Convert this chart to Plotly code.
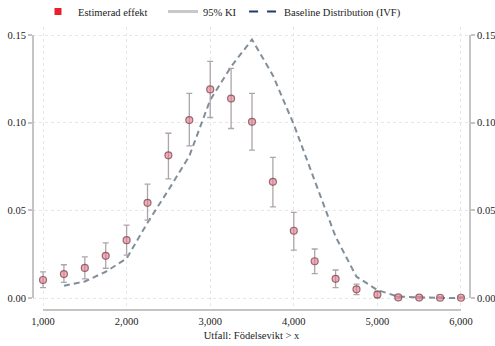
import plotly.graph_objects as go

# ---- data ----
x_est = [1000, 1250, 1500, 1750, 2000, 2250, 2500, 2750, 3000, 3250, 3500,
         3750, 4000, 4250, 4500, 4750, 5000, 5250, 5500, 5750, 6000]
est = [0.0103, 0.0137, 0.0172, 0.0241, 0.0330, 0.0543, 0.0814, 0.1015, 0.1190, 0.1138, 0.1005,
       0.0663, 0.0384, 0.0210, 0.0110, 0.0050, 0.0020, 0.0004, 0.0003, 0.0002, 0.0002]
ci_lo = [0.0060, 0.0090, 0.0110, 0.0170, 0.0245, 0.0445, 0.0680, 0.0868, 0.1030, 0.0967, 0.0844,
         0.0520, 0.0274, 0.0140, 0.0060, 0.0020, 0.0002, 0.0000, 0.0000, 0.0000, 0.0000]
ci_hi = [0.0150, 0.0190, 0.0235, 0.0315, 0.0416, 0.0650, 0.0940, 0.1167, 0.1350, 0.1310, 0.1167,
         0.0802, 0.0489, 0.0280, 0.0160, 0.0080, 0.0040, 0.0010, 0.0008, 0.0006, 0.0006]

x_base = [1250, 1500, 1750, 2000, 2250, 2500, 2750, 3000, 3250, 3500, 3750,
          4000, 4250, 4500, 4750, 5000, 5250, 5500, 5750, 6000]
base = [0.0070, 0.0095, 0.0150, 0.0226, 0.0430, 0.0616, 0.0810, 0.1130, 0.1320, 0.1475, 0.1270,
        0.0990, 0.0670, 0.0350, 0.0122, 0.0046, 0.0008, 0.0003, 0.0001, 0.0000]

x_ticks = [1000, 2000, 3000, 4000, 5000, 6000]
y_ticks = [0.00, 0.05, 0.10, 0.15]

legend_names = ["Estimerad effekt", "95% KI", "Baseline Distribution (IVF)"]
x_title = "Utfall: Födelsevikt > x"

FONT = "Liberation Serif"
AXIS_COL = "#c4c4c4"

err_plus = [h - e for h, e in zip(ci_hi, est)]
err_minus = [e - l for e, l in zip(est, ci_lo)]

fig = go.Figure()

# baseline dashed line
fig.add_trace(go.Scatter(
    x=x_base, y=base, mode="lines", showlegend=False,
    line=dict(color="rgba(80,100,115,0.72)", width=2, dash="6px,4px"),
))

# CI error bars
fig.add_trace(go.Scatter(
    x=x_est, y=est, mode="markers", showlegend=False,
    marker=dict(size=1, color="rgba(0,0,0,0)"),
    error_y=dict(type="data", symmetric=False, array=err_plus, arrayminus=err_minus,
                 color="rgba(165,155,158,0.9)", thickness=1.3, width=3),
))

# estimates
fig.add_trace(go.Scatter(
    x=x_est, y=est, mode="markers", showlegend=False,
    marker=dict(size=7, symbol="circle", color="rgba(230,120,140,0.6)",
                line=dict(color="rgba(120,70,80,0.75)", width=1.2)),
))

# invisible trace on right axis so it renders
fig.add_trace(go.Scatter(
    x=x_base, y=base, mode="lines", yaxis="y2", showlegend=False,
    line=dict(width=0), opacity=0, hoverinfo="skip",
))

# legend entries (each in its own legend for positioning)
fig.add_trace(go.Scatter(x=[None], y=[None], mode="markers", name=legend_names[0],
                         legend="legend",
                         marker=dict(symbol="square", size=7, color="#e8202a")))
fig.add_trace(go.Scatter(x=[None], y=[None], mode="lines", name=legend_names[1],
                         legend="legend2",
                         line=dict(color="#c8c8c8", width=3)))
fig.add_trace(go.Scatter(x=[None], y=[None], mode="lines", name=legend_names[2],
                         legend="legend3",
                         line=dict(color="#1f3d66", width=2, dash="dash")))

leg_common = dict(orientation="h", xanchor="left", y=1.106, yanchor="top",
                  font=dict(family=FONT, size=10.5, color="#222"),
                  bgcolor="rgba(0,0,0,0)", itemwidth=30)

yrange = [-0.0068, 0.1546]
fig.update_layout(
    width=495, height=346,
    margin=dict(l=33, r=25, t=27, b=36, autoexpand=False),
    plot_bgcolor="white", paper_bgcolor="white",
    font=dict(family=FONT, size=10.5, color="#222"),
    showlegend=True,
    legend=dict(x=0.0114, **leg_common),
    legend2=dict(x=0.2975, **leg_common),
    legend3=dict(x=0.483, **leg_common),
    xaxis=dict(range=[880, 6108], tickvals=x_ticks, tickformat=",", showline=False,
               zeroline=False, showgrid=True, gridcolor="#e6e6e6", griddash="dot",
               gridwidth=1, ticks="", ticklen=0, ticklabelstandoff=3,
               title=dict(text=x_title, font=dict(family=FONT, size=10.5), standoff=6)),
    yaxis=dict(range=yrange, tickvals=y_ticks, tickformat=".2f", showline=False,
               zeroline=False, showgrid=True, gridcolor="#e6e6e6", griddash="dot",
               ticks="outside", ticklen=4, tickcolor=AXIS_COL, tickwidth=1.5),
    yaxis2=dict(range=yrange, tickvals=y_ticks, tickformat=".2f", overlaying="y",
                side="right", showline=False, zeroline=False, showgrid=False,
                ticks="outside", ticklen=4, tickcolor=AXIS_COL, tickwidth=1.5),
    shapes=[
        dict(type="line", xref="paper", yref="y", x0=0, x1=0, y0=0, y1=0.15,
             line=dict(color=AXIS_COL, width=2)),
        dict(type="line", xref="paper", yref="y", x0=1, x1=1, y0=0, y1=0.15,
             line=dict(color=AXIS_COL, width=2)),
        dict(type="line", xref="x", yref="paper", x0=1000, x1=6000, y0=0, y1=0,
             line=dict(color=AXIS_COL, width=2)),
    ],
)

fig.write_html("out.html", config={"displayModeBar": False},
               post_script="document.body.style.margin='0';document.body.style.padding='0';")
